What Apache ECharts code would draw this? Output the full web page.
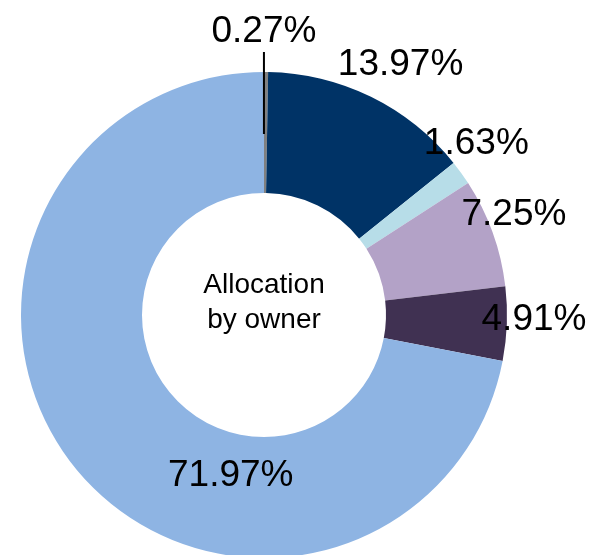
<!DOCTYPE html>
<html>
<head>
<meta charset="utf-8">
<script src="https://cdn.jsdelivr.net/npm/echarts@6/dist/echarts.min.js"></script>
<style>
    html, body { margin: 0; padding: 0; background: #fff; }
    #chart { width: 590px; height: 555px; }
</style>
</head>
<body>
<div id="chart"></div>
<script>
// allocation shares (%), clockwise from 12 o'clock
const owners = ['Owner A', 'Owner B', 'Owner C', 'Owner D', 'Owner E', 'Owner F'];
const shares = [0.27, 13.97, 1.63, 7.25, 4.91, 71.97];
const centerTitle = 'Allocation\nby owner';

const colors = ['#808080', '#003366', '#b7dde8', '#b3a2c7', '#403152', '#8eb4e3'];

// label placement around the ring (radius in px, turn in degrees from slice middle)
const labelRadius = [285, 287, 274, 270, 270, 162];
const labelTurn = [-0.5, 2.3, -3.4, -2.4, -1.4, -38.6];

const cx = 264, cy = 315;
const total = shares.reduce((a, b) => a + b, 0);

function midAngle(i) {
    let before = 0;
    for (let k = 0; k < i; k++) before += shares[k];
    return (before + shares[i] / 2) / total * 360;
}

function polar(r, deg) {
    const a = deg * Math.PI / 180;
    return [cx + r * Math.sin(a), cy - r * Math.cos(a)];
}

const chart = echarts.init(document.getElementById('chart'));

const ring = {
    type: 'pie',
    center: [cx, cy],
    radius: [122, 243],
    startAngle: 90,
    clockwise: true,
    silent: true,
    emphasis: { disabled: true },
    label: { show: false },
    labelLine: { show: false },
    data: shares.map((v, i) => ({
        name: owners[i],
        value: v,
        itemStyle: { color: colors[i] }
    }))
};

// same slices again, see-through, only carrying the labels so the
// leader line of the thin slice sits on top of the ring
const labels = {
    type: 'pie',
    z: 3,
    center: [cx, cy],
    radius: [122, 243],
    startAngle: 90,
    clockwise: true,
    silent: true,
    avoidLabelOverlap: false,
    emphasis: { disabled: true },
    itemStyle: { color: 'rgba(0,0,0,0)' },
    label: {
        show: true,
        position: 'outside',
        formatter: (p) => p.value.toFixed(2) + '%',
        fontFamily: 'Liberation Sans',
        fontSize: 37,
        color: '#000'
    },
    labelLine: { show: false },
    labelLayout: function (params) {
        const i = params.dataIndex;
        const deg = midAngle(i) + labelTurn[i];
        const p = polar(labelRadius[i], deg);
        const out = { x: p[0], y: p[1] + 2, align: 'center', verticalAlign: 'middle' };
        if (i === 0) {
            out.labelLinePoints = [polar(181, deg), polar(263, deg)];
        }
        return out;
    },
    data: shares.map((v, i) => ({
        name: owners[i],
        value: v,
        labelLine: i === 0
            ? { show: true, lineStyle: { color: '#000', width: 2 } }
            : { show: false }
    }))
};

const option = {
    animation: false,
    title: {
        text: centerTitle,
        left: cx,
        top: 268,
        textAlign: 'center',
        padding: 0,
        textStyle: {
            fontFamily: 'Liberation Sans',
            fontSize: 28,
            fontWeight: 'normal',
            lineHeight: 35,
            color: '#000'
        }
    },
    series: [ring, labels]
};

chart.setOption(option);
</script>
</body>
</html>
